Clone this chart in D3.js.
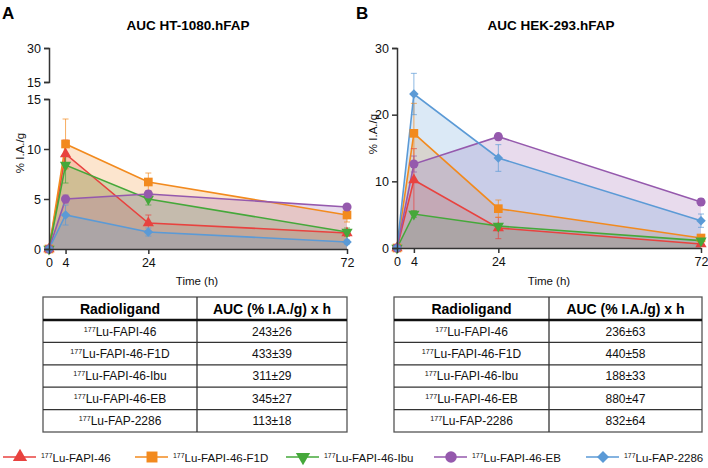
<!DOCTYPE html>
<html><head><meta charset="utf-8">
<script src="https://cdn.jsdelivr.net/npm/d3@7"></script>
<style>body{margin:0;background:#fff}svg{font-family:"Liberation Sans",Arial,sans-serif}</style>
</head><body><svg id="c" width="708" height="468"></svg>
<script>
// ---- data ----
const times = [0, 4, 24, 72];
const seriesNames = ["FAPI-46", "FAPI-46-F1D", "FAPI-46-Ibu", "FAPI-46-EB", "FAP-2286"];
const seriesColors = ["#e8423f", "#f28a1e", "#45a83a", "#9559ad", "#5b9ad6"];
const seriesSymbols = ["triUp", "square", "triDown", "circle", "diamond"];

// Panel A (HT-1080.hFAP), % I.A./g
const a_fapi46    = [0, 9.5, 2.6, 1.6];
const a_f1d       = [0, 10.5, 6.7, 3.4];
const a_ibu       = [0, 8.4, 5.0, 1.7];
const a_eb        = [0, 5.0, 5.5, 4.2];
const a_fap2286   = [0, 3.4, 1.7, 0.7];
const a_err_fapi46  = [0, 1.4, 0.8, 0.3];
const a_err_f1d     = [0, 2.5, 0.9, 0.7];
const a_err_ibu     = [0, 1.8, 0.6, 0.4];
const a_err_eb      = [0, 0.4, 0.3, 0.2];
const a_err_fap2286 = [0, 1.0, 0.4, 0.2];

// Panel B (HEK-293.hFAP)
const b_fapi46    = [0, 10.2, 3.0, 0.6];
const b_f1d       = [0, 17.2, 5.9, 1.5];
const b_ibu       = [0, 5.1, 3.3, 1.1];
const b_eb        = [0, 12.6, 16.7, 6.9];
const b_fap2286   = [0, 23.1, 13.5, 4.1];
const b_err_fapi46  = [0, 4.7, 1.6, 0.2];
const b_err_f1d     = [0, 4.5, 1.3, 0.3];
const b_err_ibu     = [0, 0.5, 0.3, 0.2];
const b_err_eb      = [0, 1.2, 0.5, 0.5];
const b_err_fap2286 = [0, 3.1, 2.0, 1.0];

// tables
const tableHeaders = ["Radioligand", "AUC (% I.A./g) x h"];
const aucA = ["243±26", "433±39", "311±29", "345±27", "113±18"];
const aucB = ["236±63", "440±58", "188±33", "880±47", "832±64"];

const xTicks = [0, 4, 24, 72];
const yTicksALow = [0, 5, 10, 15];
const yTicksAHigh = [15, 30];
const yTicksB = [0, 10, 20, 30];

// ---- drawing ----
const svg = d3.select("#c");
const axisColor = "#333";

function symPath(type, size) {
  if (type === "triUp" || type === "triDown") return d3.symbol(d3.symbolTriangle, size)();
  if (type === "square" || type === "diamond") return d3.symbol(d3.symbolSquare, size)();
  return d3.symbol(d3.symbolCircle, size)();
}
function symRot(type) {
  if (type === "triDown") return 180;
  if (type === "diamond") return 45;
  return 0;
}
function symSize(type) {
  return {triUp: 55, triDown: 55, square: 75, circle: 65, diamond: 45}[type];
}

function labelLu(g, x, y, name, anchor, size) {
  const t = g.append("text").attr("x", x).attr("y", y).attr("text-anchor", anchor)
    .attr("font-size", size).attr("fill", "#111");
  t.append("tspan").attr("font-size", size * 0.6).attr("dy", -size * 0.33).text("177");
  t.append("tspan").attr("dy", size * 0.33).text("Lu-" + name);
  return t;
}

function drawPanel(opt) {
  const g = svg.append("g");
  const x = d3.scaleLinear().domain([0, 72]).range(opt.xRange);
  const y = opt.y;
  const y0 = y(0);

  g.append("text").attr("x", opt.letterX).attr("y", 19).attr("font-size", 17).attr("font-weight", "bold").text(opt.letter);
  g.append("text").attr("x", opt.titleX).attr("y", 30).attr("font-size", 13.5).attr("font-weight", "bold")
    .attr("text-anchor", "middle").text(opt.title);

  const area = d3.area().x((d, i) => x(times[i])).y0(y0).y1(d => y(d));
  const line = d3.line().x((d, i) => x(times[i])).y(d => y(d));

  opt.values.forEach((vals, k) => {
    g.append("path").attr("d", area(vals)).attr("fill", seriesColors[k]).attr("fill-opacity", 0.22);
  });
  opt.values.forEach((vals, k) => {
    g.append("path").attr("d", line(vals)).attr("fill", "none").attr("stroke", seriesColors[k]).attr("stroke-width", 1.6);
  });
  opt.values.forEach((vals, k) => {
    vals.forEach((v, i) => {
      const e = opt.errors[k][i];
      if (!e) return;
      const cx = x(times[i]);
      const eg = g.append("g").attr("stroke", seriesColors[k]).attr("stroke-opacity", 0.7).attr("stroke-width", 1);
      eg.append("line").attr("x1", cx).attr("x2", cx).attr("y1", y(v - e)).attr("y2", y(v + e));
      eg.append("line").attr("x1", cx - 3).attr("x2", cx + 3).attr("y1", y(v + e)).attr("y2", y(v + e));
      eg.append("line").attr("x1", cx - 3).attr("x2", cx + 3).attr("y1", y(v - e)).attr("y2", y(v - e));
    });
  });
  opt.values.forEach((vals, k) => {
    const s = seriesSymbols[k];
    vals.forEach((v, i) => {
      g.append("path").attr("d", symPath(s, symSize(s)))
        .attr("transform", `translate(${x(times[i])},${y(v)}) rotate(${symRot(s)})`)
        .attr("fill", seriesColors[k]);
    });
  });

  const xa = g.append("g").attr("transform", `translate(0,${y0})`)
    .call(d3.axisBottom(x).tickValues(xTicks).tickSize(5).tickSizeOuter(0).tickPadding(4));
  xa.select(".domain").attr("stroke", axisColor).attr("stroke-width", 1.5);
  xa.selectAll(".tick line").attr("stroke", axisColor).attr("stroke-width", 1.5);
  xa.selectAll("text").attr("font-size", 12.5).attr("fill", "#111").attr("font-family", "Liberation Sans, Arial, sans-serif");

  opt.yAxes.forEach(ax => {
    const ya = g.append("g").attr("transform", `translate(${opt.xRange[0]},0)`)
      .call(d3.axisLeft(ax.scale).tickValues(ax.ticks).tickSize(5).tickSizeOuter(5).tickPadding(3));
    ya.select(".domain").attr("stroke", axisColor).attr("stroke-width", 1.5);
    ya.selectAll(".tick line").attr("stroke", axisColor).attr("stroke-width", 1.5);
    ya.selectAll("text").attr("font-size", 12.5).attr("fill", "#111").attr("font-family", "Liberation Sans, Arial, sans-serif");
  });

  g.append("text").attr("transform", `translate(${opt.yLabelX},${opt.yLabelY}) rotate(-90)`)
    .attr("text-anchor", "middle").attr("font-size", 11.5).attr("fill", "#111").text("% I.A./g");
  g.append("text").attr("x", opt.xLabelX).attr("y", 285).attr("text-anchor", "middle")
    .attr("font-size", 11.5).attr("fill", "#111").text("Time (h)");

  const tx0 = opt.table[0], tx1 = opt.table[1], tmid = opt.table[2];
  const ty0 = 297, th = 23, rh = 22.4;
  const tg = g.append("g");
  const rows = seriesNames.length;
  const ty1 = ty0 + th + rows * rh;
  tg.append("rect").attr("x", tx0).attr("y", ty0).attr("width", tx1 - tx0).attr("height", ty1 - ty0)
    .attr("fill", "none").attr("stroke", "#555").attr("stroke-width", 1.3);
  tg.append("line").attr("x1", tmid).attr("x2", tmid).attr("y1", ty0).attr("y2", ty1).attr("stroke", "#333").attr("stroke-width", 1.3);
  tg.append("line").attr("x1", tx0).attr("x2", tx1).attr("y1", ty0 + th).attr("y2", ty0 + th).attr("stroke", "#111").attr("stroke-width", 2.6);
  for (let r = 1; r < rows; r++) {
    const yy = ty0 + th + r * rh;
    tg.append("line").attr("x1", tx0).attr("x2", tx1).attr("y1", yy).attr("y2", yy).attr("stroke", "#333").attr("stroke-width", 1.3);
  }
  const c1 = (tx0 + tmid) / 2, c2 = (tmid + tx1) / 2;
  tg.append("text").attr("x", c1).attr("y", ty0 + 16.5).attr("text-anchor", "middle").attr("font-size", 14).attr("font-weight", "bold").text(tableHeaders[0]);
  tg.append("text").attr("x", c2).attr("y", ty0 + 16.5).attr("text-anchor", "middle").attr("font-size", 14).attr("font-weight", "bold").text(tableHeaders[1]);
  seriesNames.forEach((n, r) => {
    const yy = ty0 + th + r * rh + 15.5;
    labelLu(tg, c1, yy, n, "middle", 12);
    tg.append("text").attr("x", c2).attr("y", yy).attr("text-anchor", "middle").attr("font-size", 12).attr("fill", "#111").text(opt.auc[r]);
  });
}

const yALow = d3.scaleLinear().domain([0, 15]).range([249, 99]);
const yAHigh = d3.scaleLinear().domain([15, 30]).range([82, 48]);
drawPanel({
  letter: "A", letterX: 2, title: "AUC HT-1080.hFAP", titleX: 188,
  xRange: [49, 347], y: v => yALow(v),
  yAxes: [{scale: yALow, ticks: yTicksALow}, {scale: yAHigh, ticks: yTicksAHigh}],
  values: [a_fapi46, a_f1d, a_ibu, a_eb, a_fap2286],
  errors: [a_err_fapi46, a_err_f1d, a_err_ibu, a_err_eb, a_err_fap2286],
  yLabelX: 24, yLabelY: 153, xLabelX: 197,
  table: [43, 347, 197], auc: aucA
});
const yB = d3.scaleLinear().domain([0, 30]).range([248, 48]);
drawPanel({
  letter: "B", letterX: 356, title: "AUC HEK-293.hFAP", titleX: 551,
  xRange: [397, 701], y: v => yB(v),
  yAxes: [{scale: yB, ticks: yTicksB}],
  values: [b_fapi46, b_f1d, b_ibu, b_eb, b_fap2286],
  errors: [b_err_fapi46, b_err_f1d, b_err_ibu, b_err_eb, b_err_fap2286],
  yLabelX: 377, yLabelY: 134, xLabelX: 549,
  table: [394, 702, 549], auc: aucB
});

const legendX = [20, 152, 303, 451, 603];
const legendY = 457;
const lg = svg.append("g");
seriesNames.forEach((n, k) => {
  const cx = legendX[k];
  lg.append("line").attr("x1", cx - 17).attr("x2", cx + 16).attr("y1", legendY).attr("y2", legendY)
    .attr("stroke", seriesColors[k]).attr("stroke-width", 1.5);
  const s = seriesSymbols[k];
  lg.append("path").attr("d", symPath(s, symSize(s) * 1.6))
    .attr("transform", `translate(${cx},${legendY}) rotate(${symRot(s)})`).attr("fill", seriesColors[k]);
  labelLu(lg, cx + 21, legendY + 4.5, n, "start", 11.5);
});
</script></body></html>
